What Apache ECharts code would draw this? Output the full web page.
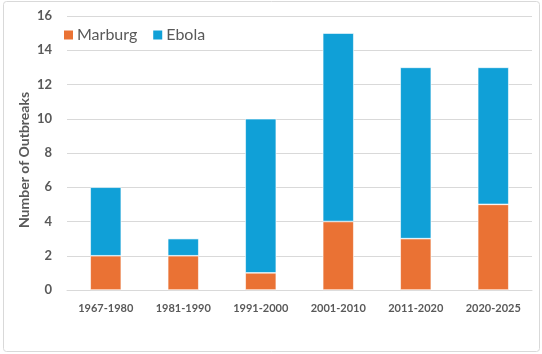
<!DOCTYPE html>
<html><head><meta charset="utf-8">
<script src="https://cdn.jsdelivr.net/npm/echarts@6/dist/echarts.min.js"></script>
<style>html,body{margin:0;padding:0;background:#fff}#c{width:542px;height:354px}</style>
</head><body><div id="c"></div>
<script>
const categories = ['1967-1980','1981-1990','1991-2000','2001-2010','2011-2020','2020-2025'];
const marburg = [2, 2, 1, 4, 3, 5];
const ebola = [4, 1, 9, 11, 10, 8];
const yTicks = [0, 2, 4, 6, 8, 10, 12, 14, 16];

const chart = echarts.init(document.getElementById('c'), null, {renderer: 'canvas'});
chart.setOption({
  animation: false,
  backgroundColor: '#fff',
  graphic: [{
    type: 'rect', shape: {x: 3.5, y: 1.5, width: 536, height: 350, r: 3},
    style: {fill: 'none', stroke: '#d9d9d9', lineWidth: 1}, silent: true
  }],
  legend: {
    left: 57, top: 22, itemWidth: 11, itemHeight: 11, itemGap: 14,
    icon: 'rect',
    textStyle: {fontFamily: 'Lato', fontSize: 16, color: '#595959', padding: [0,0,0,-2]},
    data: ['Marburg', 'Ebola']
  },
  grid: {left: 67, right: 10, top: 16, bottom: 64},
  xAxis: {
    type: 'category', data: categories,
    axisLine: {lineStyle: {color: '#d9d9d9', width: 1}},
    axisTick: {show: false},
    axisLabel: {fontFamily: 'Lato', fontSize: 11, fontWeight: 'bold', color: '#595959', margin: 13}
  },
  yAxis: {
    type: 'value', min: yTicks[0], max: yTicks[yTicks.length-1], interval: 2,
    name: 'Number of Outbreaks', nameLocation: 'middle', nameGap: 36, nameRotate: 90,
    nameMoveOverlap: false,
    nameTextStyle: {fontFamily: 'Lato', fontSize: 14, fontWeight: 'bold', color: '#595959', padding: [0,14,0,0]},
    axisLine: {show: false}, axisTick: {show: false},
    splitLine: {lineStyle: {color: '#d9d9d9', width: 1}},
    axisLabel: {fontFamily: 'Lato', fontSize: 13, fontWeight: 'bold', color: '#595959', margin: 15}
  },
  series: [
    {name: 'Marburg', type: 'bar', stack: 'total', data: marburg, barWidth: '40%',
     itemStyle: {color: '#EA7234', borderColor: '#fff', borderWidth: 0.6}},
    {name: 'Ebola', type: 'bar', stack: 'total', data: ebola, barWidth: '40%',
     itemStyle: {color: '#10A0D7', borderColor: '#fff', borderWidth: 0.6}}
  ]
});
</script></body></html>
